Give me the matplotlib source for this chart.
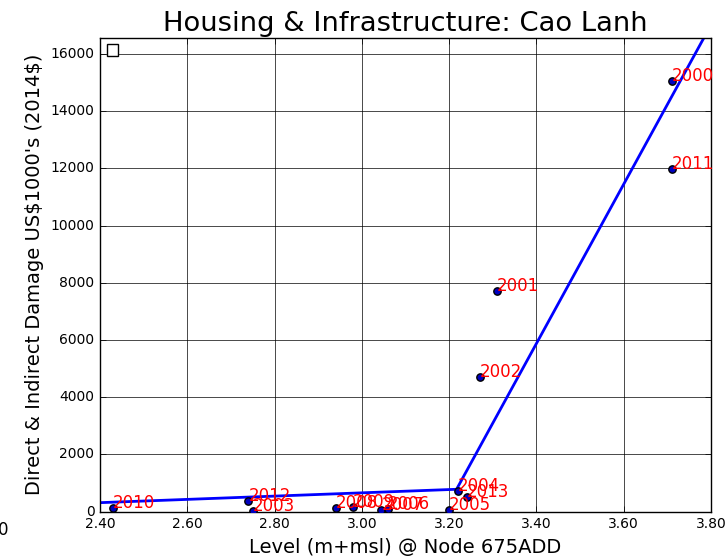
import matplotlib
matplotlib.use('Agg')
import matplotlib.pyplot as plt
from matplotlib.ticker import FormatStrFormatter, MultipleLocator

# flood events: water level at node 675ADD vs damage
years = ['2010', '2012', '2003', '2008', '2009', '2007', '2006', '2005',
         '2004', '2013', '2002', '2001', '2000', '2011']
level = [2.43, 2.74, 2.75, 2.94, 2.98, 3.045, 3.06, 3.20,
         3.22, 3.24, 3.27, 3.31, 3.71, 3.71]
damage = [120, 385, 20, 120, 175, 50, 100, 60,
          735, 500, 4720, 7730, 15070, 11970]

# fitted piecewise damage curve
fit_x = [2.40, 3.217, 3.80]
fit_y = [315, 783, 17020]

plt.style.use('classic')
fig = plt.figure(figsize=(7.28, 5.6), dpi=100, facecolor='white')
ax = fig.add_axes([0.1374, 0.0863, 0.8392, 0.8467])

ax.scatter(level, damage, s=28, c='#0000c0', edgecolors='k', zorder=3)
for yr, x, y in zip(years, level, damage):
    ax.text(x, y, yr, color='red', fontsize=12, zorder=4)
ax.plot(fit_x, fit_y, color='b', lw=2, zorder=2)

ax.set_xlim(2.40, 3.80)
ax.set_ylim(0, 16580)
ax.xaxis.set_major_locator(MultipleLocator(0.2))
ax.xaxis.set_major_formatter(FormatStrFormatter('%.2f'))
ax.yaxis.set_major_locator(MultipleLocator(2000))
ax.tick_params(labelsize=10)
ax.grid(True, linestyle='-', color='k', lw=0.5)
ax.set_axisbelow(True)

ax.set_title('Housing & Infrastructure: Cao Lanh', fontsize=19.7)
ax.set_xlabel('Level (m+msl) @ Node 675ADD', fontsize=14)
ax.set_ylabel("Direct & Indirect Damage US\\$1000's (2014\\$)", fontsize=14)

# empty legend box left over from the original
leg = ax.legend(handles=[], labels=[], loc='upper left', borderpad=0.35,
                borderaxespad=0.4, fontsize=12)
leg.get_frame().set_linewidth(1)

fig.text(-0.003, 0.045, '0', fontsize=12)

fig.savefig('out.png', dpi=100, facecolor='white')
